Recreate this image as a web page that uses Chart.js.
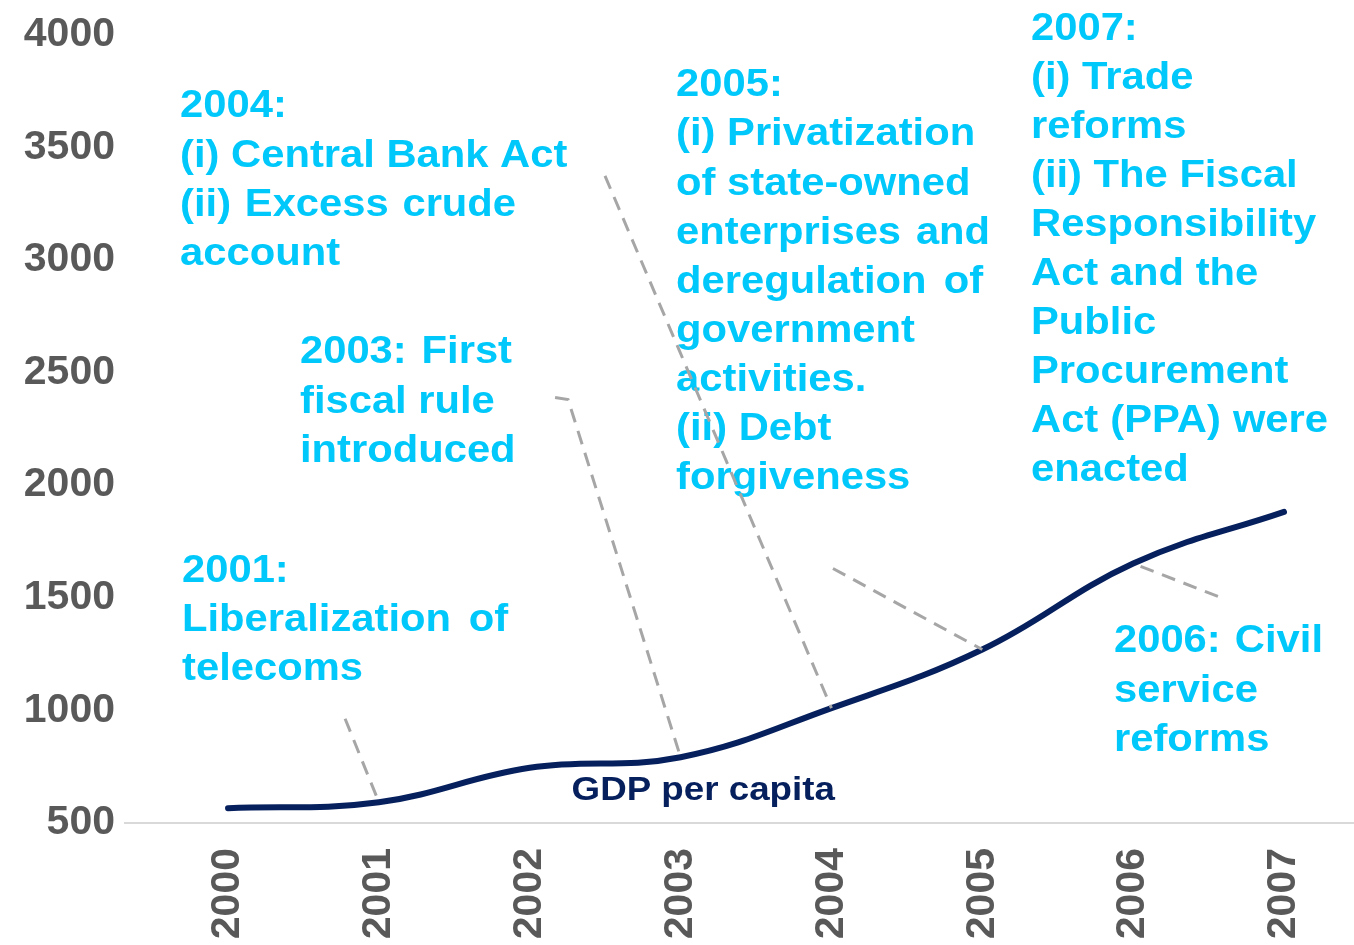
<!DOCTYPE html>
<html>
<head>
<meta charset="utf-8">
<title>GDP per capita and reforms</title>
<script src="https://cdn.jsdelivr.net/npm/chart.js@4.4.1/dist/chart.umd.min.js"></script>
<style>
  html, body { margin: 0; padding: 0; background: #fff; }
  #wrap { width: 1354px; height: 945px; position: relative; }
</style>
</head>
<body>
<div id="wrap"><canvas id="gdpChart"></canvas></div>
<script>
const years = [2000, 2001, 2002, 2003, 2004, 2005, 2006, 2007];
const gdpPerCapita = [566, 592, 745, 792, 1010, 1270, 1652, 1881];
const yTicks = [500, 1000, 1500, 2000, 2500, 3000, 3500, 4000];
const seriesName = 'GDP per capita';

const NAVY = '#06205e';
const CYAN = '#00c8fa';
const TICK_GREY = '#595959';

// Reform notes. "at" = where the first text line sits (axis units),
// "leader" = extra bends of the dashed pointer before it reaches the year's point,
// "justify" = line index -> pixel width to spread that line over.
const notes = [
  { year: 2001, lines: ['2001:', 'Liberalization of', 'telecoms'],
    at: [1999.695, 1572], leader: [[2000.776, 963]], justify: { 1: 326 } },
  { year: 2003, lines: ['2003: First', 'fiscal rule', 'introduced'],
    at: [2000.477, 2540], leader: [[2002.168, 2389], [2002.254, 2380]], justify: { 0: 212 } },
  { year: 2004, lines: ['2004:', '(i) Central Bank Act', '(ii) Excess crude', 'account'],
    at: [1999.682, 3632], leader: [[2002.499, 3373]], justify: { 2: 336 } },
  { year: 2005, lines: ['2005:', '(i) Privatization', 'of state-owned', 'enterprises and',
      'deregulation of', 'government', 'activities.', '(ii) Debt', 'forgiveness'],
    at: [2002.970, 3726], leader: [[2004.010, 1630]], justify: { 3: 314, 4: 307 } },
  { year: 2006, lines: ['2006: Civil', 'service', 'reforms'],
    at: [2005.873, 1257], leader: [[2006.562, 1506]], justify: { 0: 209 } },
  { year: 2007, lines: ['2007:', '(i) Trade', 'reforms', '(ii) The Fiscal', 'Responsibility',
      'Act and the', 'Public', 'Procurement', 'Act (PPA) were', 'enacted'],
    at: [2005.323, 3978], leader: null, justify: { 8: 297 } }
];

const NOTE_FONT = 'bold 39px "Liberation Sans", Arial, sans-serif';
const NOTE_STRETCH = 1.07;
const NOTE_LINE = 49.1;

function drawLine(ctx, text, x, y, stretch, target) {
  ctx.save();
  ctx.translate(x, y);
  ctx.scale(stretch, 1);
  const words = text.split(' ');
  const natural = ctx.measureText(text).width * stretch;
  if (target && words.length > 1 && target > natural) {
    const add = (target - natural) / (words.length - 1) / stretch;
    const space = ctx.measureText(' ').width;
    let cx = 0;
    words.forEach(w => {
      ctx.fillText(w, cx, 0);
      cx += ctx.measureText(w).width + space + add;
    });
  } else {
    ctx.fillText(text, 0, 0);
  }
  ctx.restore();
}

const notesPlugin = {
  id: 'reformNotes',
  afterDatasetsDraw(chart) {
    const ctx = chart.ctx;
    const xs = chart.scales.x, ys = chart.scales.y;

    ctx.save();
    ctx.textBaseline = 'alphabetic';
    ctx.textAlign = 'left';

    // series name under the curve
    ctx.font = 'bold 34px "Liberation Sans", Arial, sans-serif';
    ctx.fillStyle = NAVY;
    const nameX = xs.getPixelForValue(2003.15);
    const nameW = ctx.measureText(seriesName).width * 1.08;
    drawLine(ctx, seriesName, nameX - nameW / 2, ys.getPixelForValue(600), 1.08);

    // note texts
    ctx.font = NOTE_FONT;
    ctx.fillStyle = CYAN;
    notes.forEach(n => {
      const x0 = xs.getPixelForValue(n.at[0]);
      const y0 = ys.getPixelForValue(n.at[1]);
      n.lines.forEach((line, i) => {
        drawLine(ctx, line, x0, y0 + i * NOTE_LINE, NOTE_STRETCH, n.justify[i]);
      });
    });

    // dashed pointers to the curve
    ctx.strokeStyle = '#a6a6a6';
    ctx.lineWidth = 3;
    ctx.setLineDash([14, 9]);
    notes.forEach(n => {
      if (!n.leader) return;
      const idx = years.indexOf(n.year);
      ctx.beginPath();
      n.leader.forEach((p, i) => {
        const px = xs.getPixelForValue(p[0]), py = ys.getPixelForValue(p[1]);
        if (i === 0) ctx.moveTo(px, py); else ctx.lineTo(px, py);
      });
      ctx.lineTo(xs.getPixelForValue(years[idx]), ys.getPixelForValue(gdpPerCapita[idx]));
      ctx.stroke();
    });
    ctx.restore();
  }
};

const tickFont = { family: '"Liberation Sans", Arial, sans-serif', size: 41, weight: 'bold' };

new Chart(document.getElementById('gdpChart'), {
  type: 'line',
  data: {
    datasets: [{
      label: seriesName,
      data: years.map((yr, i) => ({ x: yr, y: gdpPerCapita[i] })),
      borderColor: NAVY,
      borderWidth: 6,
      borderCapStyle: 'round',
      tension: 0.4,
      pointRadius: 0,
      fill: false,
      clip: false
    }]
  },
  options: {
    responsive: true,
    maintainAspectRatio: false,
    animation: false,
    layout: { padding: { left: 22, top: 30, right: 0, bottom: 6 } },
    plugins: {
      legend: { display: false },
      tooltip: { enabled: false }
    },
    scales: {
      x: {
        type: 'linear',
        min: 1999.317,
        max: 2007.464,
        afterBuildTicks: scale => { scale.ticks = years.map(v => ({ value: v })); },
        afterFit: scale => {
          scale.height = 116;
          scale.paddingLeft = 0;
          scale.paddingRight = 0;
        },
        ticks: {
          autoSkip: false,
          minRotation: 90,
          maxRotation: 90,
          padding: 25,
          color: TICK_GREY,
          font: tickFont,
          callback: v => String(v)
        },
        grid: { display: false, drawTicks: false },
        border: { display: true, color: '#d9d9d9', width: 2 }
      },
      y: {
        min: yTicks[0],
        max: yTicks[yTicks.length - 1],
        afterBuildTicks: scale => { scale.ticks = yTicks.map(v => ({ value: v })); },
        afterFit: scale => { scale.width = 103; },
        ticks: {
          padding: 10,
          color: TICK_GREY,
          font: tickFont,
          callback: v => String(v)
        },
        grid: { display: false, drawTicks: false },
        border: { display: false }
      }
    }
  },
  plugins: [notesPlugin]
});
</script>
</body>
</html>
